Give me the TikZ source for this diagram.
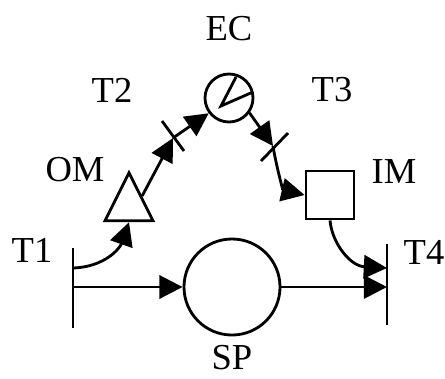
\documentclass[tikz,border=0pt]{standalone}
\usepackage{fontspec}
\setmainfont{Liberation Serif}
\usetikzlibrary{arrows.meta,shapes.geometric}
\tikzset{
 lab/.style={font=\fontsize{26}{28}\selectfont,inner sep=0pt},
 flow/.style={line width=2pt,-{Triangle[length=.58cm,width=.58cm]}},
 plain/.style={line width=2pt},
}
\begin{document}
\begin{tikzpicture}[x=.025cm,y=.025cm]
 \useasboundingbox (0,0) rectangle (445,378);
 \node[plain,draw,circle,minimum size=1.2cm,inner sep=0pt] (ec) at (229,280) {};
 \node[plain,draw,circle,minimum size=2.4cm,inner sep=0pt] (sp) at (232,91) {};
 \node[plain,draw,minimum size=1.2cm,inner sep=0pt] (im) at (330,183) {};
 \node[plain,draw,isosceles triangle,shape border rotate=90,isosceles triangle apex angle=53.13,isosceles triangle stretches,minimum width=1.2cm,minimum height=1.2cm,inner sep=0pt] (om) at (129,172) {};
 \coordinate (hub) at (221,272);
 \coordinate (tip1) at (236,301);
 \coordinate (tip2) at (253,286);
 \draw[plain] (tip1)--(hub)--(tip2);
 % bars and ticks
 \coordinate (t1a) at (73,130);
 \coordinate (t1b) at (73,50);
 \coordinate (t4a) at (387,134);
 \coordinate (t4b) at (387,53);
 \coordinate (t2a) at (162,257);
 \coordinate (t2b) at (184,227);
 \coordinate (t3a) at (288,245);
 \coordinate (t3b) at (261,217);
 \coordinate (t2m) at (173,240);
 \coordinate (t3m) at (273,232);
 \coordinate (t1o) at (73,110);
 \coordinate (t1s) at (73,91);
 \coordinate (t4i) at (387,110);
 \coordinate (t4s) at (387,91);
 \draw[plain] (t1a)--(t1b);
 \draw[plain] (t4a)--(t4b);
 \draw[plain] (t2a)--(t2b);
 \draw[plain] (t3a)--(t3b);
 \draw[flow] (t1o) .. controls (105,111) and (120,130) .. (om.lower side);
 \draw[flow] (t1s)--(sp);
 \draw[flow] (sp)--(t4s);
 \draw[flow] (om.right side)--(t2m);
 \draw[flow] (t2m)--(ec.217);
 \draw[flow] (ec.-36)--(t3m);
 \draw[flow] (t3m) .. controls (276,213) and (283,188) .. (im.west);
 \draw[flow] (im.south) .. controls (332,135) and (350,112) .. (t4i);
 \node[lab] (lec) at (229,349) {EC};
 \node[lab] (lt2) at (112,288) {T2};
 \node[lab] (lt3) at (332,288) {T3};
 \node[lab] (lom) at (75,208) {OM};
 \node[lab] (lim) at (394,206) {IM};
 \node[lab] (lt1) at (32,128) {T1};
 \node[lab] (lt4) at (424,126) {T4};
 \node[lab] (lsp) at (232,20) {SP};
\end{tikzpicture}
\end{document}
